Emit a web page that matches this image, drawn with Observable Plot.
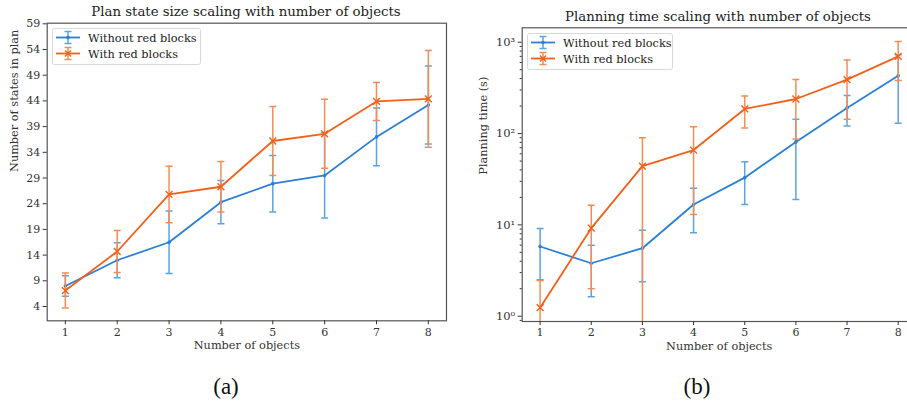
<!DOCTYPE html>
<html>
<head>
<meta charset="utf-8">
<script src="https://cdn.jsdelivr.net/npm/d3@7"></script>
<script src="https://cdn.jsdelivr.net/npm/@observablehq/plot@0.6"></script>
<style>
  html, body { margin: 0; padding: 0; background: #fff; }
  #fig { position: relative; width: 907px; height: 403px; overflow: hidden; background: #fff; }
  .panel { position: absolute; top: 0; }
  .title { position: absolute; font-family: "DejaVu Serif", serif; font-size: 13.3px; line-height: 13px; color: #222; white-space: nowrap; transform: translateX(-50%); }
  .cap { position: absolute; font-family: "Liberation Serif", "Times New Roman", serif; font-size: 23px; line-height: 23px; color: #111; transform: translateX(-50%); }
</style>
</head>
<body>
<div id="fig"></div>
<script>
// ---- data ----
const objects = [1, 2, 3, 4, 5, 6, 7, 8];
const seriesNames = ["Without red blocks", "With red blocks"];

// (a) plan state size: mean and standard deviation
const statesWithoutMean = [8.0, 13.0, 16.5, 24.3, 27.9, 29.5, 37.0, 43.2];
const statesWithoutSd   = [2.0, 3.4, 6.1, 4.2, 5.5, 8.3, 5.6, 7.6];
const statesWithMean    = [7.1, 14.7, 25.8, 27.3, 36.2, 37.6, 43.9, 44.4];
const statesWithSd      = [3.4, 4.1, 5.5, 4.9, 6.7, 6.7, 3.7, 9.4];
const statesTicks = [4, 9, 14, 19, 24, 29, 34, 39, 44, 49, 54, 59];

// (b) planning time (s): mean and standard deviation
const timeWithoutMean = [5.8, 3.8, 5.55, 16.7, 32.9, 81, 191, 430];
const timeWithoutSd   = [3.3, 2.17, 3.17, 8.5, 16.2, 62, 70, 300];
const timeWithMean    = [1.24, 9.2, 44, 66, 186, 239, 390, 700];
const timeWithSd      = [1.22, 7.2, 46, 53, 71, 152, 247, 320];
const timeTicks = [1, 10, 100, 1000];
const timeTickLabels = ["10\u2070", "10\u00b9", "10\u00b2", "10\u00b3"];

const colors = ["#2b7fd6", "#f2601a"];
const errColors = ["#5ea2e2", "#f58c56"];

const titles = ["Plan state size scaling with number of objects", "Planning time scaling with number of objects"];
const yLabels = ["Number of states in plan", "Planning time (s)"];
const xLabel = "Number of objects";
const captions = ["(a)", "(b)"];

// ---- helpers ----
function rows(means, sds, name, floor) {
  return objects.map((x, i) => ({
    x, name,
    y: means[i],
    lo: Math.max(means[i] - sds[i], floor),
    hi: means[i] + sds[i]
  }));
}
const capSymbol = {
  draw(ctx, size) {
    const w = Math.sqrt(size / Math.PI);
    ctx.moveTo(-w, 0); ctx.lineTo(w, 0);
  }
};
const font = "DejaVu Serif";

function seriesMarks(data, k) {
  const c = colors[k], e = errColors[k];
  return [
    Plot.ruleX(data, {x: "x", y1: "lo", y2: "hi", stroke: e, strokeWidth: 1.5, clip: true}),
    Plot.dot(data, {x: "x", y: "hi", symbol: capSymbol, r: 3.5, stroke: e, strokeWidth: 1.5, clip: true}),
    Plot.dot(data, {x: "x", y: "lo", symbol: capSymbol, r: 3.5, stroke: e, strokeWidth: 1.5, clip: true}),
    Plot.line(data, {x: "x", y: "y", stroke: c, strokeWidth: 1.8}),
    k === 0
      ? Plot.dot(data, {x: "x", y: "y", r: 1.8, fill: c})
      : Plot.dot(data, {x: "x", y: "y", symbol: "times", r: 3.2, stroke: c, strokeWidth: 1.4})
  ];
}

function legendSvg(x, y, w) {
  const ns = "http://www.w3.org/2000/svg";
  const svg = document.createElementNS(ns, "svg");
  svg.setAttribute("width", w); svg.setAttribute("height", 37);
  svg.style.position = "absolute"; svg.style.left = x + "px"; svg.style.top = y + "px";
  svg.innerHTML = `<rect x="0.5" y="0.5" width="${w - 1}" height="36" rx="2" fill="white" fill-opacity="0.85" stroke="#d8d8d8"/>` +
    seriesNames.map((n, k) => {
      const cy = 9.5 + k * 16;
      const mk = k === 0
        ? `<circle cx="16" cy="${cy}" r="1.8" fill="${colors[k]}"/>`
        : `<path d="M13,${cy - 3}L19,${cy + 3}M13,${cy + 3}L19,${cy - 3}" stroke="${colors[k]}" stroke-width="1.4"/>`;
      return `<line x1="4" x2="28" y1="${cy}" y2="${cy}" stroke="${colors[k]}" stroke-width="1.8"/>` +
        `<line x1="16" x2="16" y1="${cy - 6}" y2="${cy + 6}" stroke="${errColors[k]}" stroke-width="1.5"/>` +
        `<line x1="12.5" x2="19.5" y1="${cy - 6}" y2="${cy - 6}" stroke="${errColors[k]}" stroke-width="1.5"/>` +
        `<line x1="12.5" x2="19.5" y1="${cy + 6}" y2="${cy + 6}" stroke="${errColors[k]}" stroke-width="1.5"/>` +
        mk +
        `<text x="36" y="${cy + 4}" font-family="${font}" font-size="11.3" fill="#222">${n}</text>`;
    }).join("");
  return svg;
}

const fig = document.getElementById("fig");

// ---- panel (a) ----
const dataA = [
  ...rows(statesWithoutMean, statesWithoutSd, seriesNames[0], -1e9),
  ...rows(statesWithMean, statesWithSd, seriesNames[1], -1e9)
];
const plotA = Plot.plot({
  width: 460, height: 360,
  marginLeft: 46.7, marginRight: 14, marginTop: 22.7, marginBottom: 39.7,
  style: {fontFamily: font, fontSize: "11px", color: "#333", background: "white", overflow: "visible"},
  x: {domain: [0.65, 8.35]},
  y: {domain: [1.22, 59.12]},
  marks: [
    Plot.frame({stroke: "#555", strokeWidth: 1.2}),
    Plot.axisX({ticks: objects, tickSize: 4, tickPadding: 3, tickFormat: d3.format("d"), label: null, fontSize: 11}),
    Plot.axisY({ticks: statesTicks, tickSize: 4, tickPadding: 3, tickFormat: d3.format("d"), label: null, fontSize: 11}),
    ...seriesMarks(dataA.filter(d => d.name === seriesNames[0]), 0),
    ...seriesMarks(dataA.filter(d => d.name === seriesNames[1]), 1),
    Plot.text([xLabel], {frameAnchor: "bottom", dy: 28, fontSize: 11.3, fill: "#333"}),
    Plot.text([yLabels[0]], {frameAnchor: "left", dx: -33, rotate: -90, fontSize: 11.3, fill: "#333"})
  ]
});
plotA.classList.add("panel");
plotA.style.left = "0px";
fig.appendChild(plotA);

// ---- panel (b) ----
const dataB = [
  ...rows(timeWithoutMean, timeWithoutSd, seriesNames[0], 0.5),
  ...rows(timeWithMean, timeWithSd, seriesNames[1], 0.5)
];
const minorTicks = [];
for (const dec of [1, 10, 100, 1000]) for (let m = 2; m <= 9; m++) if (dec * m < 1440) minorTicks.push(dec * m);
minorTicks.unshift(0.9);
const plotB = Plot.plot({
  width: 470, height: 360,
  marginLeft: 61.7, marginRight: 14.4, marginTop: 27.3, marginBottom: 39,
  style: {fontFamily: font, fontSize: "11px", color: "#333", background: "white", overflow: "visible"},
  x: {domain: [0.65, 8.35]},
  y: {type: "log", domain: [0.875, 1439]},
  marks: [
    Plot.frame({stroke: "#555", strokeWidth: 1.2}),
    Plot.axisX({ticks: objects, tickSize: 4, tickPadding: 3, tickFormat: d3.format("d"), label: null, fontSize: 11}),
    Plot.axisY({ticks: minorTicks, tickSize: 2, tickFormat: () => "", label: null}),
    Plot.axisY({ticks: timeTicks, tickSize: 4, tickPadding: 3, tickFormat: (d) => timeTickLabels[timeTicks.indexOf(d)], label: null, fontSize: 11.5}),
    ...seriesMarks(dataB.filter(d => d.name === seriesNames[0]), 0),
    ...seriesMarks(dataB.filter(d => d.name === seriesNames[1]), 1),
    Plot.text([xLabel], {frameAnchor: "bottom", dy: 28, fontSize: 11.3, fill: "#333"}),
    Plot.text([yLabels[1]], {frameAnchor: "left", dx: -39, rotate: -90, fontSize: 11.3, fill: "#333"})
  ]
});
plotB.classList.add("panel");
plotB.style.left = "460px";
fig.appendChild(plotB);

// ---- titles, legends, captions ----
[[246, 5], [718, 10]].forEach(([cx, top], k) => {
  const t = document.createElement("div");
  t.className = "title"; t.textContent = titles[k];
  t.style.left = cx + "px"; t.style.top = top + "px";
  fig.appendChild(t);
});
fig.appendChild(legendSvg(51.7, 28, 149));
fig.appendChild(legendSvg(527.3, 32.5, 146));
[[226, 375], [697, 375]].forEach(([cx, top], k) => {
  const c = document.createElement("div");
  c.className = "cap"; c.textContent = captions[k];
  c.style.left = cx + "px"; c.style.top = top + "px";
  fig.appendChild(c);
});
</script>
</body>
</html>
